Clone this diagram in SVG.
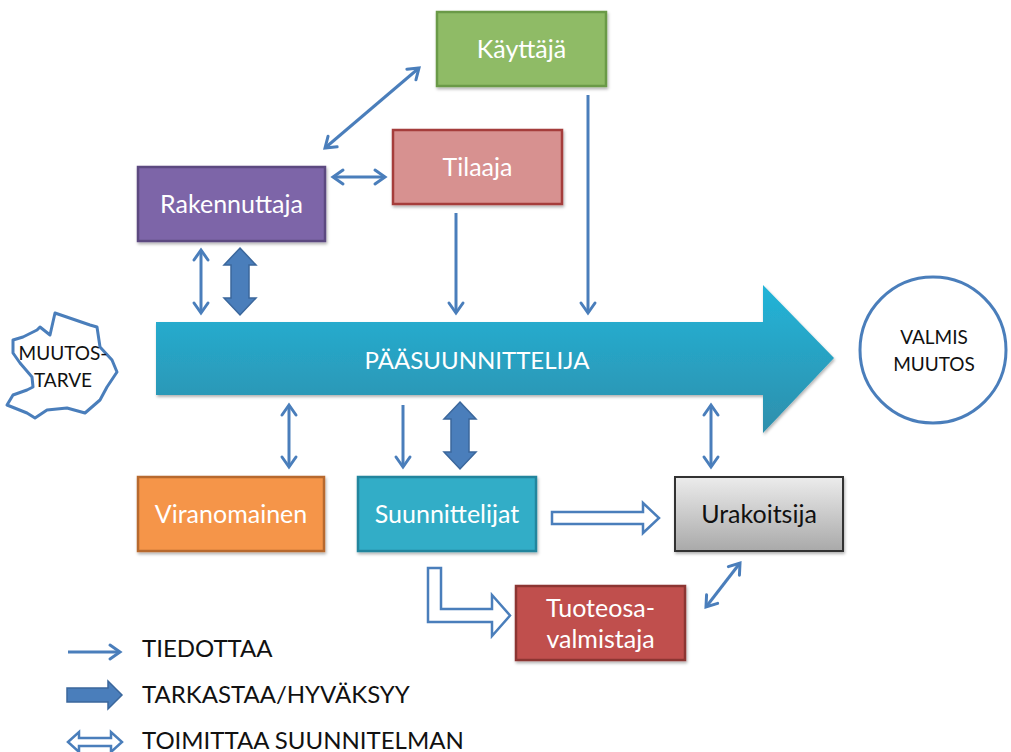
<svg xmlns="http://www.w3.org/2000/svg" width="1011" height="752" viewBox="0 0 1011 752">
<style>
  text { font-family: Lato, "Liberation Sans", sans-serif; }
  .lbl { font-size: 25px; fill: #ffffff; text-anchor: middle; }
  .dark { fill: #111111; }
  .box { stroke-width: 2.5; }
  .thin { fill: none; stroke: #4a7ebb; stroke-width: 3; }
  .thick { fill: #4a7ebb; stroke: #3b679c; stroke-width: 1.5; }
  .hollow { fill: #ffffff; stroke: #4a7ebb; stroke-width: 2.5; stroke-linejoin: miter; }
  .legend { font-size: 24px; fill: #111111; }
</style>
<defs>
  <linearGradient id="gMain" x1="0" y1="0" x2="0" y2="1">
    <stop offset="0" stop-color="#22b4d8"/>
    <stop offset="1" stop-color="#2f8fac"/>
  </linearGradient>
  <linearGradient id="gGray" x1="0" y1="0" x2="0" y2="1">
    <stop offset="0" stop-color="#ececec"/>
    <stop offset="1" stop-color="#a9a9a9"/>
  </linearGradient>
  <filter id="sh" x="-10%" y="-10%" width="130%" height="140%">
    <feDropShadow dx="1" dy="2" stdDeviation="1.5" flood-color="#000" flood-opacity="0.3"/>
  </filter>
  <marker id="hd" markerUnits="userSpaceOnUse" markerWidth="16" markerHeight="18" refX="12" refY="8" orient="auto-start-reverse" overflow="visible">
    <path d="M2,1 L12,8 L2,15" fill="none" stroke="#4a7ebb" stroke-width="3" stroke-linecap="round" stroke-linejoin="miter"/>
  </marker>
  <path id="thickV" d="M0,0 L16,17 L9,17 L9,50 L16,50 L0,67 L-16,50 L-9,50 L-9,17 L-16,17 Z"/>
</defs>

<g id="pasuunnittelija">
  <path d="M156,322 H763 V285 L834,358 L763,433 V395 H156 Z" fill="url(#gMain)" filter="url(#sh)"/>
  <text x="477" y="369" class="lbl" style="font-size:24px">PÄÄSUUNNITTELIJA</text>
</g>

<g id="muutostarve">
  <path d="M55,313 L90,325 L97,327 L100,347 L112,360 L117,372 L107,387 L100,400 L85,413 L67,408 L47,410 L35,418 L27,413 L7,405 L13,395 L27,390 L33,387 L32,377 L20,363 L13,353 L13,340 L23,337 L37,330 L40,327 L50,335 Z" fill="#ffffff" stroke="#4a7ebb" stroke-width="3" stroke-linejoin="round"/>
  <text x="63" y="360" style="font-size:19px" text-anchor="middle" class="dark">MUUTOS-</text>
  <text x="63" y="387" style="font-size:19px" text-anchor="middle" class="dark">TARVE</text>
</g>

<g id="valmis">
  <circle cx="933" cy="350" r="73" fill="#ffffff" stroke="#4a7ebb" stroke-width="3"/>
  <text x="934" y="344" style="font-size:19px" text-anchor="middle" class="dark">VALMIS</text>
  <text x="934" y="371" style="font-size:19px" text-anchor="middle" class="dark">MUUTOS</text>
</g>

<g id="kayttaja">
  <rect x="437" y="12" width="169" height="74" fill="#8fbb66" stroke="#6a9a47" class="box" filter="url(#sh)"/>
  <text x="521.5" y="58" class="lbl">Käyttäjä</text>
</g>

<g id="tilaaja">
  <rect x="393" y="130" width="169" height="74" fill="#d79190" stroke="#a53c3a" class="box" filter="url(#sh)"/>
  <text x="477.5" y="176" class="lbl">Tilaaja</text>
</g>

<g id="rakennuttaja">
  <rect x="138" y="167" width="187" height="74" fill="#7d65a8" stroke="#5b4980" class="box" filter="url(#sh)"/>
  <text x="231.5" y="213" class="lbl">Rakennuttaja</text>
</g>

<g id="viranomainen">
  <rect x="138" y="477" width="186" height="74" fill="#f59549" stroke="#b7692d" class="box" filter="url(#sh)"/>
  <text x="231" y="523" class="lbl">Viranomainen</text>
</g>

<g id="suunnittelijat">
  <rect x="358" y="477" width="178" height="74" fill="#33adc7" stroke="#24859d" class="box" filter="url(#sh)"/>
  <text x="447" y="523" class="lbl">Suunnittelijat</text>
</g>

<g id="urakoitsija">
  <rect x="675" y="477" width="168" height="74" fill="url(#gGray)" stroke="#333333" stroke-width="2" filter="url(#sh)"/>
  <text x="759" y="523" class="lbl dark">Urakoitsija</text>
</g>

<g id="tuoteosavalmistaja">
  <rect x="516" y="586" width="169" height="74" fill="#c0504d" stroke="#8c3431" class="box" filter="url(#sh)"/>
  <text x="600.5" y="617" class="lbl">Tuoteosa-</text>
  <text x="600.5" y="648" class="lbl">valmistaja</text>
</g>

<g id="connectors">
  <line x1="325" y1="148" x2="419" y2="68" class="thin" marker-start="url(#hd)" marker-end="url(#hd)"/>
  <line x1="333" y1="177" x2="385" y2="177" class="thin" marker-start="url(#hd)" marker-end="url(#hd)"/>
  <line x1="201" y1="250" x2="201" y2="313" class="thin" marker-start="url(#hd)" marker-end="url(#hd)"/>
  <use href="#thickV" x="240" y="248" class="thick"/>
  <line x1="456" y1="213" x2="456" y2="313" class="thin" marker-end="url(#hd)"/>
  <line x1="588" y1="95" x2="588" y2="313" class="thin" marker-end="url(#hd)"/>

  <line x1="289" y1="405" x2="289" y2="467" class="thin" marker-start="url(#hd)" marker-end="url(#hd)"/>
  <line x1="403" y1="405" x2="403" y2="467" class="thin" marker-end="url(#hd)"/>
  <use href="#thickV" x="460" y="402" class="thick"/>
  <line x1="711" y1="405" x2="711" y2="467" class="thin" marker-start="url(#hd)" marker-end="url(#hd)"/>

  <path d="M552,512 H643 V503 L659,518 L643,533 V524 H552 Z" class="hollow"/>
  <path d="M428,568 H441 V609 H492 V595 L510,615.5 L492,636 V622 H428 Z" class="hollow"/>
  <line x1="706" y1="607" x2="740" y2="563" class="thin" marker-start="url(#hd)" marker-end="url(#hd)"/>
</g>

<g id="legend">
  <line x1="68" y1="652" x2="120" y2="652" class="thin" marker-end="url(#hd)"/>
  <text x="142" y="657" class="legend">TIEDOTTAA</text>
  <path d="M67,688 H108 V681 L122,695 L108,709 V702 H67 Z" class="thick"/>
  <text x="142" y="703" class="legend">TARKASTAA/HYVÄKSYY</text>
  <path d="M68,742 L79,732 V738 H111 V732 L122,742 L111,752 V746 H79 V752 Z" class="hollow" stroke-width="2"/>
  <text x="142" y="749" class="legend">TOIMITTAA SUUNNITELMAN</text>
</g>
</svg>
